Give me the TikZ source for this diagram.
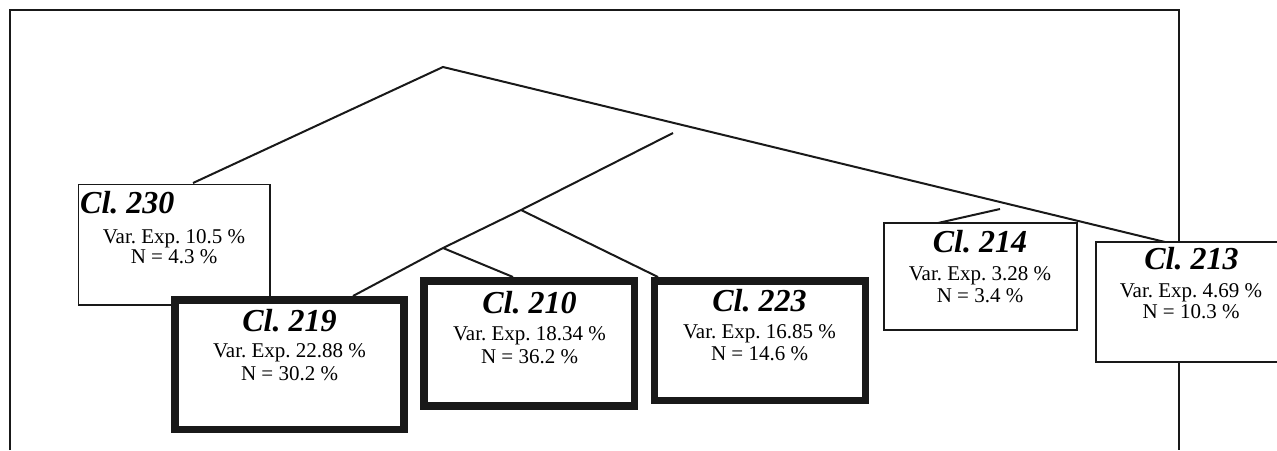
\documentclass[tikz,border=0pt]{standalone}
\usepackage{fontspec}
\setmainfont{Liberation Serif}
\frenchspacing
\begin{document}
\begin{tikzpicture}[x=1pt,y=-1pt,
  frameline/.style={line width=2.4pt,draw=black!90},
  link/.style={line width=2pt,draw=black!90},
  thinbox/.style={draw=black!90,fill=white,line width=1.7pt,rectangle,inner sep=0pt},
  thickbox/.style={draw=black!90,fill=white,line width=7.5pt,rectangle,inner sep=0pt},
  cltitle/.style={font=\fontsize{32}{34}\selectfont\bfseries\itshape,inner sep=0pt,anchor=base},
  cltext/.style={font=\fontsize{21}{23}\selectfont,inner sep=0pt,anchor=base}]
\useasboundingbox (0,0) rectangle (1277,450);
% outer frame
\draw[frameline] (10,450) -- (10,10) -- (1179,10) -- (1179,450);
% junction coordinates
\coordinate (root) at (443,67);
\coordinate (j1) at (673,133);
\coordinate (j2) at (521,210);
\coordinate (j3) at (443,248);
\coordinate (j4) at (1000,209);
% boxes
\node[thinbox,minimum width=191.5pt,minimum height=120.5pt] (b230) at (174.25,244.75) {};
\node[thinbox,minimum width=193pt,minimum height=107pt] (b214) at (980.5,276.5) {};
\node[thinbox,minimum width=191pt,minimum height=120pt] (b213) at (1191.5,302) {};
\node[thickbox,minimum width=229pt,minimum height=129.5pt] (b219) at (289.5,364.75) {};
\node[thickbox,minimum width=210.5pt,minimum height=125pt] (b210) at (529.25,343.5) {};
\node[thickbox,minimum width=211pt,minimum height=119.5pt] (b223) at (760,340.75) {};
% attachment points on box tops
\coordinate (t230) at (193,183);
\coordinate (t213) at (1165,242);
\coordinate (t219) at (353,296);
\coordinate (t210) at (513,277);
\coordinate (t223) at (658,277);
\coordinate (t214) at (938,223);
% connectors
\draw[link] (t230) -- (root) -- (t213);
\draw[link] (j1) -- (j2) -- (j3) -- (t219);
\draw[link] (j2) -- (t223);
\draw[link] (j3) -- (t210);
\draw[link] (j4) -- (t214);
% texts
\node[cltitle,anchor=base west] (h230) at (80,213) {Cl. 230};
\node[cltext] (v230) at (174,243) {Var. Exp. 10.5 \%};
\node[cltext] (n230) at (174,263.5) {N = 4.3 \%};
\node[cltitle] (h219) at (289.5,331) {Cl. 219};
\node[cltext] (v219) at (289.5,357) {Var. Exp. 22.88 \%};
\node[cltext] (n219) at (289.5,380) {N = 30.2 \%};
\node[cltitle] (h210) at (529.5,313) {Cl. 210};
\node[cltext] (v210) at (529.5,340) {Var. Exp. 18.34 \%};
\node[cltext] (n210) at (529.5,363) {N = 36.2 \%};
\node[cltitle] (h223) at (759.5,311) {Cl. 223};
\node[cltext] (v223) at (759.5,338) {Var. Exp. 16.85 \%};
\node[cltext] (n223) at (759.5,360) {N = 14.6 \%};
\node[cltitle] (h214) at (980,252) {Cl. 214};
\node[cltext] (v214) at (980,280) {Var. Exp. 3.28 \%};
\node[cltext] (n214) at (980,302) {N = 3.4 \%};
\node[cltitle] (h213) at (1191.5,269) {Cl. 213};
\node[cltext] (v213) at (1191,297) {Var. Exp. 4.69 \%};
\node[cltext] (n213) at (1191,318) {N = 10.3 \%};
\end{tikzpicture}
\end{document}
